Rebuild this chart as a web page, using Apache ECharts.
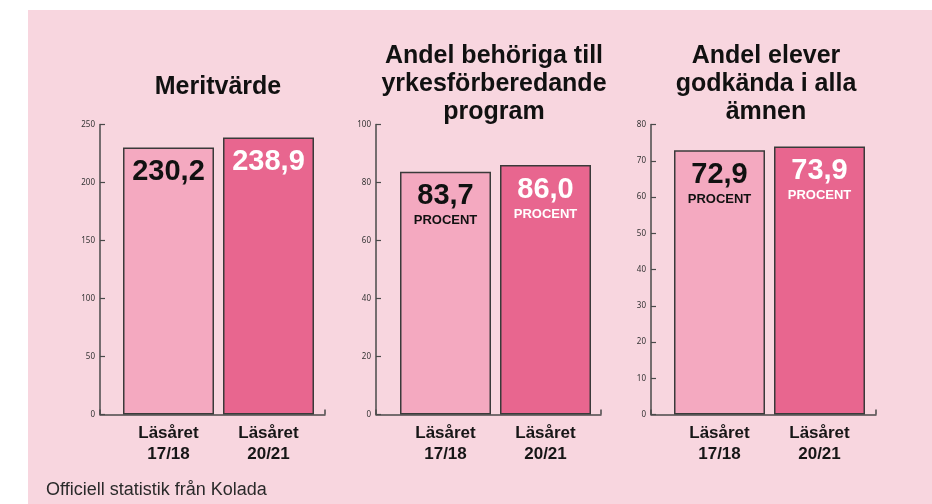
<!DOCTYPE html>
<html>
<head>
<meta charset="utf-8">
<script src="https://cdn.jsdelivr.net/npm/echarts@6/dist/echarts.min.js"></script>
<style>
html, body { margin: 0; padding: 0; background: #fff; }
#chart { width: 932px; height: 504px; }
</style>
</head>
<body>
<div id="chart"></div>
<script>
// data
const categories = ['Läsåret\n17/18', 'Läsåret\n20/21']
const meritValues = [230.2, 238.9]
const behorigaValues = [83.7, 86.0]
const godkandaValues = [72.9, 73.9]
const panelTitles = ['Meritvärde', 'Andel behöriga till\nyrkesförberedande\nprogram', 'Andel elever\ngodkända i alla\nämnen']
const axisMax = [250, 100, 80]
const axisStep = [50, 20, 10]
const unitText = ['', 'PROCENT', 'PROCENT']
const source = 'Officiell statistik från Kolada'

const panelValues = [meritValues, behorigaValues, godkandaValues]

// layout
const sans = "'Liberation Sans', Arial, sans-serif"
const frameLeft = [100, 376, 651]
const barLeft = [118.5, 395.5, 669.5]
const titleX = [218, 494, 766]
const titleTop = [73, 42, 42]
const barColors = ['#f4a9c0', '#e8668f']
const labelColors = ['#111', '#fff']
const gridTop = 124.5
const gridH = 290

const fmt = v => v.toFixed(1).replace('.', ',')

const grids = []
const xAxes = []
const yAxes = []
const series = []
const titles = []

panelValues.forEach((vals, p) => {
  // frame grid: axes lines + y ticks
  grids.push({ left: frameLeft[p], top: gridTop, width: 225, height: gridH })
  // bar grid
  grids.push({ left: barLeft[p], top: gridTop, width: 200, height: gridH })
  const gf = p * 2
  const gb = p * 2 + 1

  xAxes.push({
    gridIndex: gf,
    type: 'category',
    data: [''],
    axisLine: { lineStyle: { color: '#4a4a4a', width: 1.5 } },
    axisTick: { show: true, inside: true, length: 5, lineStyle: { color: '#4a4a4a', width: 1.5 } },
    axisLabel: { show: false }
  })
  yAxes.push({
    gridIndex: gf,
    type: 'value',
    min: 0,
    max: axisMax[p],
    interval: axisStep[p],
    axisLine: { show: true, lineStyle: { color: '#4a4a4a', width: 1.5 } },
    axisTick: { show: true, inside: true, length: 5, lineStyle: { color: '#4a4a4a', width: 1.2 } },
    axisLabel: { fontSize: 8, color: '#333', margin: 5, fontFamily: 'Noto Sans' },
    splitLine: { show: false }
  })

  xAxes.push({
    gridIndex: gb,
    type: 'category',
    data: categories,
    axisLine: { show: false },
    axisTick: { show: false },
    axisLabel: {
      margin: 8,
      fontSize: 17,
      lineHeight: 21,
      fontWeight: 'bold',
      color: '#161616',
      fontFamily: sans
    }
  })
  yAxes.push({
    gridIndex: gb,
    type: 'value',
    min: 0,
    max: axisMax[p],
    show: false,
    splitLine: { show: false }
  })

  series.push({
    type: 'bar',
    xAxisIndex: gb,
    yAxisIndex: gb,
    barWidth: 91,
    data: vals.map((v, i) => ({
      value: v,
      itemStyle: { color: barColors[i] },
      label: {
        rich: {
          v: { fontSize: 29, fontWeight: 'bold', lineHeight: 31, color: labelColors[i], fontFamily: sans },
          p: { fontSize: 13, fontWeight: 'bold', lineHeight: 18, color: labelColors[i], fontFamily: sans }
        }
      }
    })),
    itemStyle: { borderColor: '#3a3a3a', borderWidth: 1.5 },
    label: {
      show: true,
      position: 'insideTop',
      distance: 9,
      formatter: params => '{v|' + fmt(params.value) + '}' + (unitText[p] ? '\n{p|' + unitText[p] + '}' : '')
    },
    silent: true
  })

  titles.push({
    text: panelTitles[p],
    left: titleX[p],
    top: titleTop[p],
    padding: 0,
    textAlign: 'center',
    textStyle: { fontSize: 25, lineHeight: 28, fontWeight: 'bold', color: '#111', fontFamily: sans }
  })
})

titles.push({
  text: source,
  left: 46,
  top: 481,
  padding: 0,
  textStyle: { fontSize: 18, fontWeight: 'normal', color: '#2a2a2a', fontFamily: sans }
})

const chart = echarts.init(document.getElementById('chart'))
chart.setOption({
  animation: false,
  graphic: [{
    type: 'rect',
    left: 28,
    top: 10,
    shape: { width: 904, height: 494 },
    style: { fill: '#f8d6df' },
    z: -10
  }],
  title: titles,
  grid: grids,
  xAxis: xAxes,
  yAxis: yAxes,
  series: series
})
</script>
</body>
</html>
